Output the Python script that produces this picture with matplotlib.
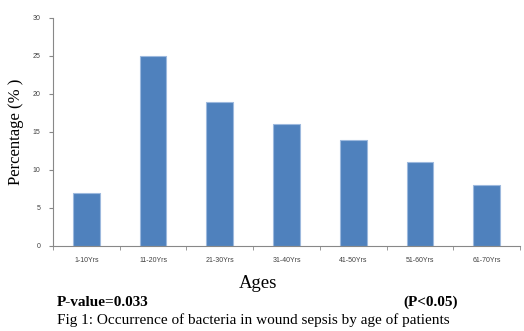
import matplotlib
matplotlib.use("Agg")
import matplotlib.pyplot as plt
import numpy as np

categories = ["1-10Yrs", "11-20Yrs", "21-30Yrs", "31-40Yrs", "41-50Yrs", "51-60Yrs", "61-70Yrs"]
values = [7, 25, 19, 16, 14, 11, 8]
yticks = [0, 5, 10, 15, 20, 25, 30]

fig = plt.figure(figsize=(5.24, 3.31), dpi=100)
ax = fig.add_axes([53/524, (331-246)/331, (520-53)/524, (246-18)/331])

x = np.arange(len(categories))
ax.bar(x, values, width=0.4, color="#4F81BD", edgecolor="#9DB9DE", linewidth=0.8)
ax.set_xlim(-0.5, len(categories) - 0.5)
ax.set_ylim(0, 30)
ax.set_yticks(yticks)
ax.set_yticklabels([str(v) for v in yticks], fontsize=5, color="#404040", family="Liberation Sans")
ax.set_xticks(x)
ax.set_xticklabels(categories, fontsize=5, color="#404040", family="Liberation Sans")
ax.tick_params(axis="x", length=0, pad=8)
ax.set_xticks(np.arange(-0.5, len(categories) + 0.5, 1), minor=True)
ax.tick_params(axis="x", which="minor", length=3, color="#888888")
ax.tick_params(axis="y", length=3, color="#888888", pad=6)
for s in ["top", "right"]:
    ax.spines[s].set_visible(False)
for s in ["left", "bottom"]:
    ax.spines[s].set_color("#888888")
    ax.spines[s].set_linewidth(0.8)

fig.text(16/524, 1 - 132/331, "Percentage (% )", rotation=90, ha="center", va="center",
         fontsize=12, family="Liberation Serif")
fig.text(258/524, 1 - 283/331, "Ages", ha="center", va="center", fontsize=13.5, family="Liberation Serif")
fig.text(57/524, 1 - 302/331, "P-value=0.033", ha="left", va="center", fontsize=11,
         fontweight="bold", family="Liberation Serif")
fig.text(458/524, 1 - 302/331, "(P<0.05)", ha="right", va="center", fontsize=11,
         fontweight="bold", family="Liberation Serif")
fig.text(57/524, 1 - 320/331, "Fig 1: Occurrence of bacteria in wound sepsis by age of patients",
         ha="left", va="center", fontsize=11, family="Liberation Serif")

fig.savefig("out.png", dpi=100)
